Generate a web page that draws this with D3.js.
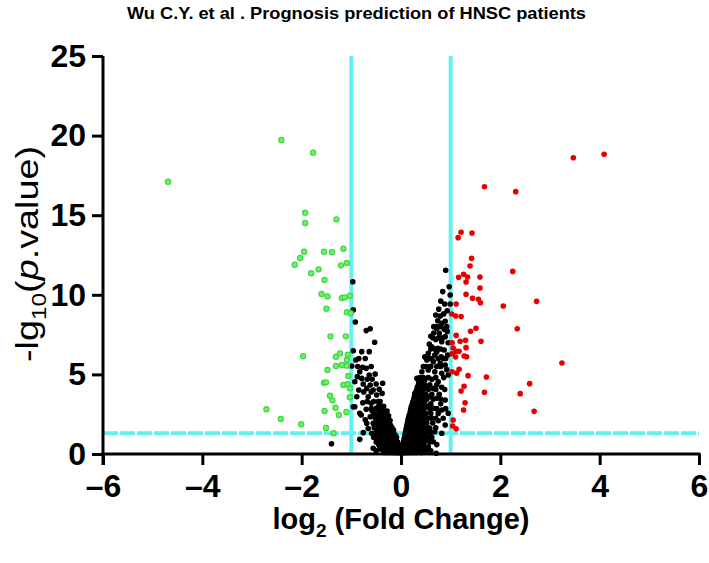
<!DOCTYPE html>
<html>
<head>
<meta charset="utf-8">
<script src="https://cdn.jsdelivr.net/npm/d3@7"></script>
<style>
html,body{margin:0;padding:0;background:#fff;}
svg{display:block;}
</style>
</head>
<body>
<svg id="chart" width="709" height="563"></svg>
<script>
// ---------- data ----------
const chartTitle = "Wu C.Y. et al . Prognosis prediction of HNSC patients";
const xTicks = [-6, -4, -2, 0, 2, 4, 6];
const yTicks = [0, 5, 10, 15, 20, 25];
const fcCutoffs = [-1, 1];
const pCutoff = 1.3;

// down-regulated (green) [log2FC, -log10 p]
const downPoints = [
  [-2.41,19.72],[-1.77,18.93],[-4.69,17.10],[-1.93,15.16],[-1.93,14.51],[-1.30,14.74],
  [-1.95,12.71],[-1.55,12.71],[-1.39,12.67],[-1.16,12.90],[-2.03,12.31],[-2.14,11.89],
  [-1.09,12.00],[-1.21,11.85],[-1.66,11.60],[-1.81,11.35],[-1.54,10.93],[-1.60,10.05],
  [-1.48,9.90],[-1.19,9.80],[-1.13,9.84],[-1.03,9.94],[-1.50,9.13],[-1.09,8.90],
  [-1.01,8.84],[-1.42,7.39],[-1.11,7.39],[-1.97,6.14],[-1.31,6.11],[-1.23,6.32],
  [-1.07,6.24],[-1.31,5.53],[-1.19,5.59],[-1.09,5.90],[-1.09,5.55],[-1.48,5.28],
  [-1.06,4.90],[-1.55,4.48],[-1.51,4.50],[-1.16,4.33],[-1.08,4.38],[-1.03,4.13],
  [-1.43,3.66],[-1.38,3.37],[-1.03,3.56],[-2.71,2.81],[-1.32,2.91],[-1.54,2.70],
  [-1.25,2.45],[-1.10,2.64],[-2.42,2.20],[-2.01,1.87],[-1.51,1.63],[-1.36,1.30]
];

// up-regulated (red)
const upPoints = [
  [3.47,18.61],[4.09,18.83],[1.68,16.79],[2.31,16.48],[1.21,13.93],[1.43,13.88],
  [1.15,13.59],[1.42,12.29],[1.39,11.81],[2.25,11.47],[1.16,11.10],[1.26,11.29],
  [1.34,11.12],[1.59,11.12],[1.31,10.80],[1.59,10.43],[1.31,10.03],[1.44,9.78],
  [1.56,9.72],[1.60,9.50],[2.73,9.59],[2.06,9.30],[1.11,9.42],[1.02,8.79],
  [1.10,8.67],[1.21,8.63],[1.51,7.90],[1.40,7.71],[2.34,7.87],[1.11,7.45],
  [1.19,7.08],[1.30,7.14],[1.61,7.08],[1.03,6.99],[1.05,6.66],[1.31,6.68],
  [1.11,6.45],[1.17,6.45],[1.03,6.30],[1.10,6.09],[1.27,6.16],[1.32,6.11],
  [3.24,5.72],[1.17,5.32],[1.03,5.17],[1.12,5.07],[1.35,4.92],[1.72,4.84],
  [2.59,4.42],[1.27,4.25],[1.21,3.96],[1.68,3.88],[2.40,3.79],[1.29,3.22],
  [2.68,2.68],[1.26,2.76],[1.05,2.14],[1.04,1.76],[1.11,1.59]
];

// not significant (black)
const nsPoints = [
  // left arm
  [-0.97,10.82],[-0.96,9.05],[-0.92,8.29],[-0.70,7.75],[-0.62,7.87],[-0.53,7.02],
  [-0.96,6.49],[-0.79,6.43],[-0.64,6.43],[-0.91,5.90],[-0.99,5.53],[-0.77,5.45],
  [-0.70,5.38],[-0.83,5.17],[-0.64,4.96],[-0.52,5.02],[-0.88,4.86],[-0.79,4.75],
  [-0.93,4.54],[-0.76,4.40],[-0.62,4.33],[-0.50,4.40],[-0.37,4.44],[-0.85,4.02],
  [-0.69,4.12],[-0.56,4.02],[-0.44,4.06],[-0.89,3.60],[-0.66,3.60],[-0.49,3.71],
  [-0.38,3.81],[-0.77,3.22],[-0.60,3.18],[-0.46,3.29],[-0.93,2.97],[-0.96,2.97],
  [-0.70,2.81],[-0.50,2.87],[-0.40,2.97],[-0.83,2.56],[-0.80,2.45],[-0.62,2.34],
  [-0.48,2.45],[-0.69,1.93],[-0.56,1.93],[-0.42,2.03],[-0.76,1.34],[-0.59,1.30],
  [-0.83,0.92],[-0.56,0.36],[-1.40,0.64],[-0.66,1.60],[-0.72,2.15],[-0.58,2.70],
  [-0.60,5.50],[-0.87,5.50],[-0.72,6.00],[-0.85,6.00],[-0.58,4.70],[-0.68,4.70],
  [-0.60,3.90],[-0.75,3.90],[-0.55,3.30],[-0.42,3.30],[-0.68,3.30],
  // left core
  [-0.45,3.00],[-0.35,3.00],[-0.42,2.70],[-0.33,2.70],[-0.28,2.70],
  [-0.46,2.40],[-0.38,2.40],[-0.30,2.40],[-0.25,2.40],
  [-0.44,2.10],[-0.36,2.10],[-0.29,2.10],[-0.22,2.10],
  [-0.50,1.80],[-0.41,1.80],[-0.34,1.80],[-0.27,1.80],[-0.21,1.80],
  [-0.47,1.50],[-0.39,1.50],[-0.32,1.50],[-0.25,1.50],[-0.19,1.50],[-0.15,1.50],
  [-0.52,1.20],[-0.43,1.20],[-0.36,1.20],[-0.30,1.20],[-0.23,1.20],[-0.17,1.20],[-0.12,1.20],
  [-0.48,0.90],[-0.40,0.90],[-0.33,0.90],[-0.27,0.90],[-0.21,0.90],[-0.15,0.90],[-0.10,0.90],
  [-0.45,0.60],[-0.37,0.60],[-0.30,0.60],[-0.24,0.60],[-0.18,0.60],[-0.13,0.60],[-0.08,0.60],[-0.05,0.60],
  [-0.40,0.30],[-0.32,0.30],[-0.26,0.30],[-0.20,0.30],[-0.15,0.30],[-0.11,0.30],[-0.07,0.30],[-0.04,0.30],[-0.02,0.30],
  [-0.30,0.10],[-0.22,0.10],[-0.16,0.10],[-0.12,0.10],[-0.08,0.10],[-0.05,0.10],[-0.03,0.10],[-0.01,0.10],
  [-0.50,0.20],[-0.35,0.20],[-0.28,0.20],
  [-0.43,0.45],[-0.35,0.45],[-0.28,0.45],[-0.22,0.45],[-0.17,0.45],[-0.12,0.45],[-0.09,0.45],[-0.06,0.45],[-0.03,0.45],
  [-0.50,0.75],[-0.42,0.75],[-0.35,0.75],[-0.28,0.75],[-0.22,0.75],[-0.16,0.75],[-0.11,0.75],[-0.07,0.75],
  [-0.55,1.05],[-0.46,1.05],[-0.39,1.05],[-0.32,1.05],[-0.25,1.05],[-0.19,1.05],[-0.13,1.05],[-0.09,1.05],
  [-0.50,1.35],[-0.42,1.35],[-0.35,1.35],[-0.28,1.35],[-0.21,1.35],[-0.16,1.35],
  [-0.54,1.65],[-0.45,1.65],[-0.37,1.65],[-0.30,1.65],[-0.23,1.65],[-0.18,1.65],
  [-0.48,1.95],[-0.40,1.95],[-0.32,1.95],[-0.25,1.95],
  [-0.52,2.25],[-0.42,2.25],[-0.33,2.25],[-0.26,2.25],
  [-0.55,2.55],[-0.45,2.55],[-0.36,2.55],[-0.30,2.55],
  [-0.60,2.85],[-0.48,2.85],[-0.38,2.85],
  // right core
  [0.01,0.10],[0.03,0.10],[0.05,0.10],[0.08,0.10],[0.12,0.10],[0.16,0.10],[0.22,0.10],[0.30,0.10],[0.40,0.10],
  [0.02,0.30],[0.05,0.30],[0.08,0.30],[0.11,0.30],[0.15,0.30],[0.20,0.30],[0.26,0.30],[0.33,0.30],[0.42,0.30],[0.55,0.30],
  [0.04,0.60],[0.07,0.60],[0.10,0.60],[0.14,0.60],[0.19,0.60],[0.24,0.60],[0.30,0.60],[0.37,0.60],[0.45,0.60],
  [0.06,0.90],[0.09,0.90],[0.13,0.90],[0.17,0.90],[0.22,0.90],[0.28,0.90],[0.35,0.90],[0.43,0.90],[0.50,0.90],
  [0.08,1.20],[0.12,1.20],[0.16,1.20],[0.21,1.20],[0.27,1.20],[0.33,1.20],[0.40,1.20],[0.48,1.20],
  [0.10,1.50],[0.14,1.50],[0.19,1.50],[0.24,1.50],[0.30,1.50],[0.37,1.50],[0.44,1.50],[0.52,1.50],
  [0.12,1.80],[0.17,1.80],[0.22,1.80],[0.28,1.80],[0.34,1.80],[0.41,1.80],
  [0.14,2.10],[0.19,2.10],[0.25,2.10],[0.31,2.10],[0.38,2.10],[0.45,2.10],
  [0.16,2.40],[0.21,2.40],[0.27,2.40],[0.33,2.40],[0.40,2.40],
  [0.19,2.70],[0.24,2.70],[0.30,2.70],[0.36,2.70],[0.43,2.70],
  [0.21,3.00],[0.27,3.00],[0.33,3.00],[0.39,3.00],
  [0.24,3.30],[0.30,3.30],[0.36,3.30],[0.42,3.30],
  [0.27,3.60],[0.33,3.60],[0.39,3.60],
  [0.30,3.90],[0.36,3.90],[0.43,3.90],
  [0.33,4.20],[0.40,4.20],[0.36,4.50],[0.44,4.50],
  [0.45,0.20],[0.50,0.20],[0.60,0.20],
  [0.03,0.45],[0.06,0.45],[0.09,0.45],[0.13,0.45],[0.17,0.45],[0.22,0.45],[0.28,0.45],[0.35,0.45],[0.48,0.45],
  [0.05,0.75],[0.08,0.75],[0.12,0.75],[0.16,0.75],[0.21,0.75],[0.27,0.75],[0.33,0.75],[0.40,0.75],[0.47,0.75],[0.58,0.75],
  [0.07,1.05],[0.11,1.05],[0.15,1.05],[0.19,1.05],[0.25,1.05],[0.31,1.05],[0.37,1.05],[0.45,1.05],[0.55,1.05],[0.62,1.05],
  [0.09,1.35],[0.13,1.35],[0.18,1.35],[0.23,1.35],[0.29,1.35],[0.35,1.35],[0.42,1.35],[0.50,1.35],[0.60,1.35],
  [0.11,1.65],[0.16,1.65],[0.21,1.65],[0.26,1.65],[0.32,1.65],[0.39,1.65],[0.47,1.65],[0.55,1.65],[0.70,1.65],
  [0.13,1.95],[0.18,1.95],[0.24,1.95],[0.30,1.95],[0.36,1.95],[0.43,1.95],[0.52,1.95],[0.64,1.95],
  [0.15,2.25],[0.20,2.25],[0.26,2.25],[0.32,2.25],[0.39,2.25],[0.55,2.25],[0.70,2.25],[0.85,2.25],
  [0.18,2.55],[0.23,2.55],[0.29,2.55],[0.35,2.55],[0.42,2.55],[0.50,2.55],[0.60,2.55],[0.75,2.55],
  [0.20,2.85],[0.26,2.85],[0.32,2.85],[0.38,2.85],[0.46,2.85],[0.58,2.85],[0.72,2.85],[0.90,2.85],
  [0.23,3.15],[0.29,3.15],[0.35,3.15],[0.41,3.15],[0.48,3.15],[0.60,3.15],[0.80,3.15],
  [0.26,3.45],[0.32,3.45],[0.38,3.45],[0.45,3.45],[0.52,3.45],[0.65,3.45],[0.80,3.45],
  [0.29,3.75],[0.35,3.75],[0.41,3.75],[0.50,3.75],[0.62,3.75],[0.77,3.75],
  [0.32,4.05],[0.38,4.05],[0.45,4.05],[0.55,4.05],[0.70,4.05],[0.88,4.05],
  [0.35,4.35],[0.42,4.35],[0.48,4.35],[0.58,4.35],[0.72,4.35],
  [0.38,4.80],[0.45,4.80],[0.55,4.80],[0.70,4.80],[0.86,4.80],
  [0.50,5.50],[0.58,5.50],[0.72,5.50],[0.80,5.50],
  [0.56,6.00],[0.62,6.00],[0.75,6.00],[0.90,6.00],
  [0.60,6.60],[0.68,6.60],[0.80,6.60],
  [0.64,7.30],[0.76,7.30],[0.84,7.30],
  [0.72,8.00],[0.80,8.00],[0.92,8.00],
  // right arm
  [0.90,11.54],[0.97,10.50],[0.99,9.99],[0.88,9.42],[0.99,9.42],[0.70,8.73],
  [0.79,8.67],[0.74,8.37],[0.82,8.21],[0.89,8.34],[0.72,7.89],[0.87,7.83],
  [0.77,7.58],[0.89,7.37],[0.70,7.20],[0.82,7.05],[0.95,6.99],[0.62,6.74],
  [0.74,6.64],[0.87,6.53],[0.55,6.32],[0.68,6.22],[0.81,6.11],[0.94,6.22],
  [0.52,5.90],[0.65,5.80],[0.79,5.70],[0.89,5.59],[0.42,5.17],[0.55,5.28],
  [0.68,5.17],[0.82,5.07],[0.95,4.96],[0.32,4.75],[0.48,4.65],[0.62,4.69],
  [0.75,4.54],[0.38,4.33],[0.52,4.23],[0.65,4.12],[0.82,4.19],[0.28,3.81],
  [0.45,3.71],[0.58,3.60],[0.72,3.50],[0.89,3.39],[0.25,3.18],[0.38,3.08],
  [0.52,2.97],[0.65,2.87],[0.82,2.76],[0.95,2.56],[0.22,2.56],[0.35,2.45],
  [0.48,2.34],[0.62,2.24],[0.75,2.09],[0.89,1.82],[0.18,1.93],[0.32,1.82],
  [0.45,1.71],[0.58,1.61],[0.68,1.40],[0.65,0.77],[0.55,0.46],[0.82,1.30],
  [0.38,1.19],[0.52,1.09],[0.72,0.59],[0.71,0.05],
  [0.84,10.20],[0.80,9.60],[0.93,9.00],[0.76,9.10],[0.86,8.80],[0.66,8.00],
  [0.60,7.40],[0.66,7.60],[0.93,7.70],[0.57,6.90],[0.48,6.10],[0.72,6.40],
  [0.60,5.50],[0.85,6.00],[0.92,5.30],[0.45,5.50]
];

// ---------- chart ----------
const svg = d3.select("#chart");
const x = d3.scaleLinear().domain([-6, 6]).range([103, 699]);
const y = d3.scaleLinear().domain([0, 25]).range([454, 56]);

const cyan = "#62f0f2";
const sans = "'Liberation Sans', Arial, sans-serif";

// threshold lines
svg.append("g").selectAll("line").data(fcCutoffs).join("line")
  .attr("x1", d => x(d)).attr("x2", d => x(d))
  .attr("y1", y(25)).attr("y2", y(0))
  .attr("stroke", cyan).attr("stroke-width", 4);

svg.append("line")
  .attr("x1", x(-6)).attr("x2", x(6))
  .attr("y1", y(pCutoff)).attr("y2", y(pCutoff))
  .attr("stroke", cyan).attr("stroke-width", 4)
  .attr("stroke-dasharray", "15,2");

// points
const pts = svg.append("g");
pts.append("g").selectAll("circle").data(nsPoints).join("circle")
  .attr("cx", d => x(d[0])).attr("cy", d => y(d[1])).attr("r", 2.8)
  .attr("fill", "#000");
pts.append("g").selectAll("circle").data(downPoints).join("circle")
  .attr("cx", d => x(d[0])).attr("cy", d => y(d[1])).attr("r", 2.6)
  .attr("fill", "#6cf06c").attr("stroke", "#3fd83f").attr("stroke-width", 1.2);
pts.append("g").selectAll("circle").data(upPoints).join("circle")
  .attr("cx", d => x(d[0])).attr("cy", d => y(d[1])).attr("r", 2.8)
  .attr("fill", "#e60000");

// axes
const xAxis = svg.append("g").attr("transform", `translate(0,${y(0)})`)
  .call(d3.axisBottom(x).tickValues(xTicks).tickSize(11).tickSizeOuter(0)
    .tickFormat(d => d < 0 ? "\u2013" + Math.abs(d) : d));
const yAxis = svg.append("g").attr("transform", `translate(${x(-6)},0)`)
  .call(d3.axisLeft(y).tickValues(yTicks).tickSize(11).tickSizeOuter(0));

[xAxis, yAxis].forEach(g => {
  g.select(".domain").attr("stroke", "#000").attr("stroke-width", 3);
  g.selectAll(".tick line").attr("stroke", "#000").attr("stroke-width", 3);
  g.selectAll(".tick text").attr("fill", "#000")
    .style("font-family", sans)
    .style("font-weight", "bold").style("font-size", "32px");
});
xAxis.select(".domain").attr("d", `M${x(-6)-1.5},0H${x(6)+1.5}`);
yAxis.select(".domain").attr("d", `M0,${y(25)}V${y(0)+11}`);
xAxis.selectAll(".tick text").attr("dy", "0.71em").attr("y", 20);
yAxis.selectAll(".tick text").attr("x", -17);

// title
svg.append("text")
  .attr("x", 127).attr("y", 19)
  .attr("textLength", 459).attr("lengthAdjust", "spacingAndGlyphs")
  .style("font-family", sans)
  .style("font-weight", "bold").style("font-size", "17px")
  .text(chartTitle);

// x axis title
const xt = svg.append("text")
  .attr("x", 401).attr("y", 529).attr("text-anchor", "middle")
  .style("font-family", sans)
  .style("font-weight", "bold").style("font-size", "29px");
xt.append("tspan").text("log");
xt.append("tspan").attr("dy", 8).style("font-size", "19px").text("2");
xt.append("tspan").attr("dy", -8).text(" (Fold Change)");

// y axis title
const yt = svg.append("text")
  .attr("transform", "translate(38,362) rotate(-90)")
  .attr("textLength", 216).attr("lengthAdjust", "spacingAndGlyphs")
  .style("font-family", sans)
  .style("font-size", "31px");
yt.append("tspan").text("-lg");
yt.append("tspan").attr("dy", 8).style("font-size", "20px").text("10");
yt.append("tspan").attr("dy", -8).text("(");
yt.append("tspan").style("font-style", "italic").text("p");
yt.append("tspan").text(".value)");
</script>
</body>
</html>
